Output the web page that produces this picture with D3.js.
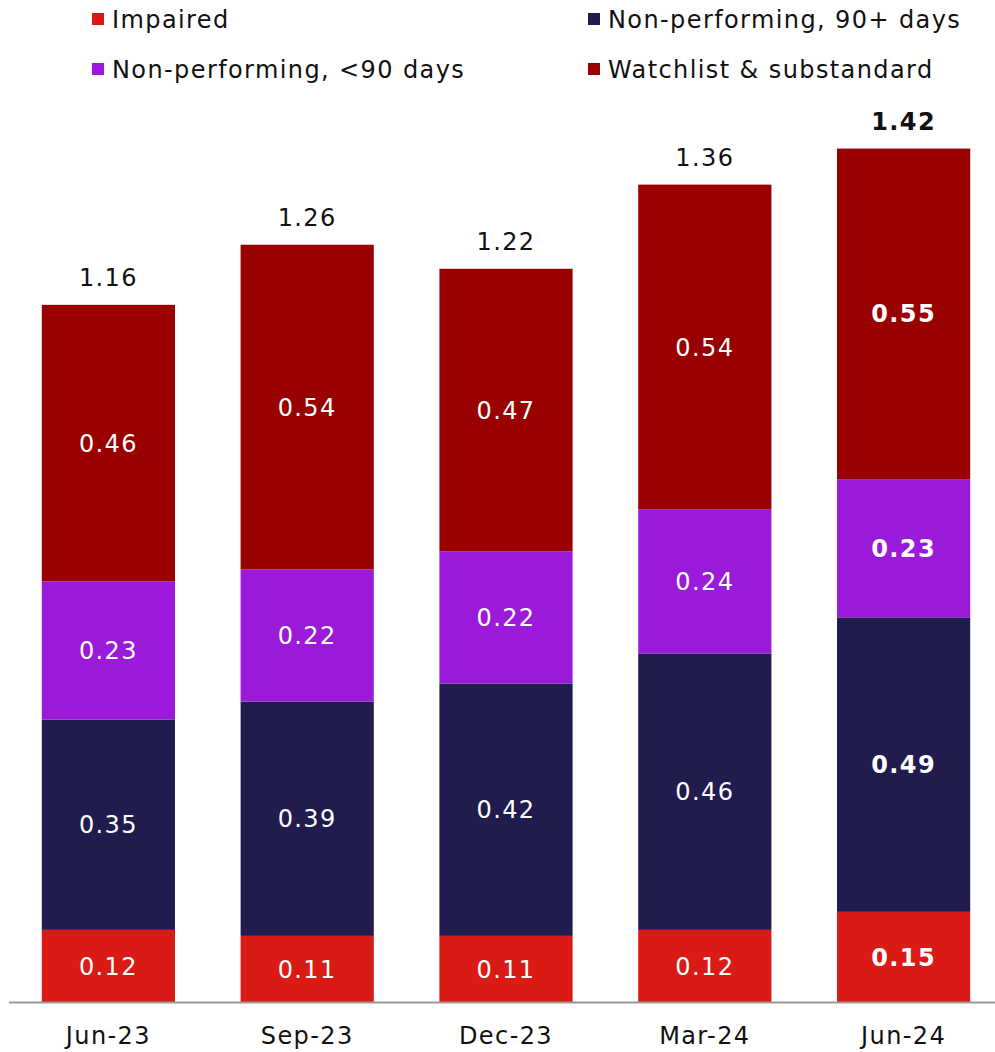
<!DOCTYPE html>
<meta charset="utf-8">
<script src="https://d3js.org/d3.v7.min.js"></script>
<style>
  body { margin: 0; background: #fff; }
  text { font-family: "DejaVu Sans", sans-serif; letter-spacing: 1.4px; }
</style>
<div id="chart"></div>
<script>

// data
var quarters = ["Jun-23", "Sep-23", "Dec-23", "Mar-24", "Jun-24"];
var impaired = [0.12, 0.11, 0.11, 0.12, 0.15];
var np90plus = [0.35, 0.39, 0.42, 0.46, 0.49];
var npUnder90 = [0.23, 0.22, 0.22, 0.24, 0.23];
var watchlist = [0.46, 0.54, 0.47, 0.54, 0.55];
var totals = [1.16, 1.26, 1.22, 1.36, 1.42];

var seriesNames = ["Impaired", "Non-performing, 90+ days", "Non-performing, <90 days", "Watchlist & substandard"];
var seriesColors = ["#da1a14", "#201c4e", "#9b1ad9", "#990000"];

var width = 995, height = 1052;

var svg = d3.select("#chart").append("svg")
  .attr("width", width)
  .attr("height", height);

var rows = quarters.map(function(q, i) {
  return { q: q, s0: impaired[i], s1: np90plus[i], s2: npUnder90[i], s3: watchlist[i], total: totals[i], idx: i };
});

var stack = d3.stack().keys(["s0", "s1", "s2", "s3"]);
var layers = stack(rows);

var x = d3.scaleBand()
  .domain(quarters)
  .range([9, 1003])
  .paddingInner(0.33)
  .paddingOuter(0.165);

var y = d3.scaleLinear()
  .domain([0, 1.5])
  .range([1002, 100.5]);

var last = quarters.length - 1;

// bars
var layer = svg.selectAll(".layer")
  .data(layers)
  .enter().append("g")
    .attr("class", "layer")
    .attr("fill", function(d, i) { return seriesColors[i]; });

layer.selectAll("rect")
  .data(function(d) { return d; })
  .enter().append("rect")
    .attr("x", function(d) { return x(d.data.q); })
    .attr("y", function(d) { return y(d[1]); })
    .attr("width", x.bandwidth())
    .attr("height", function(d) { return y(d[0]) - y(d[1]); });

// segment labels
layer.selectAll("text")
  .data(function(d, i) { return d.map(function(p) { return { p: p, key: d.key }; }); })
  .enter().append("text")
    .attr("x", function(d) { return x(d.p.data.q) + x.bandwidth() / 2; })
    .attr("y", function(d) { return (y(d.p[0]) + y(d.p[1])) / 2; })
    .attr("dy", "0.36em")
    .attr("text-anchor", "middle")
    .attr("fill", "#fff")
    .style("font-size", "24px")
    .style("font-weight", function(d) { return d.p.data.idx === last ? "bold" : "normal"; })
    .text(function(d) { return d.p.data[d.key].toFixed(2); });

// totals
svg.selectAll(".total")
  .data(rows)
  .enter().append("text")
    .attr("class", "total")
    .attr("x", function(d) { return x(d.q) + x.bandwidth() / 2; })
    .attr("y", function(d) { return y(d.total) - 19; })
    .attr("text-anchor", "middle")
    .attr("fill", "#111")
    .style("font-size", "24px")
    .style("font-weight", function(d) { return d.idx === last ? "bold" : "normal"; })
    .text(function(d) { return d.total.toFixed(2); });

// x axis
var xAxis = svg.append("g")
  .attr("transform", "translate(0," + y(0) + ")")
  .call(d3.axisBottom(x).tickSize(0).tickPadding(25));

xAxis.select(".domain")
  .attr("d", "M9,0.5H995")
  .attr("stroke", "#999")
  .attr("stroke-width", 2);

xAxis.selectAll("text")
  .attr("fill", "#111")
  .style("font-size", "24px")
  .style("font-family", "DejaVu Sans, sans-serif");

// legend
var legendPos = [
  { x: 92, y: 19 },
  { x: 588, y: 19 },
  { x: 92, y: 69 },
  { x: 588, y: 69 }
];

var legend = svg.selectAll(".legend")
  .data(seriesNames)
  .enter().append("g")
    .attr("class", "legend")
    .attr("transform", function(d, i) { return "translate(" + legendPos[i].x + "," + legendPos[i].y + ")"; });

legend.append("rect")
  .attr("x", 0)
  .attr("y", -6)
  .attr("width", 12)
  .attr("height", 12)
  .attr("fill", function(d, i) { return seriesColors[i]; });

legend.append("text")
  .attr("x", 20)
  .attr("dy", "0.36em")
  .attr("fill", "#111")
  .style("font-size", "24px")
  .text(function(d) { return d; });

</script>
